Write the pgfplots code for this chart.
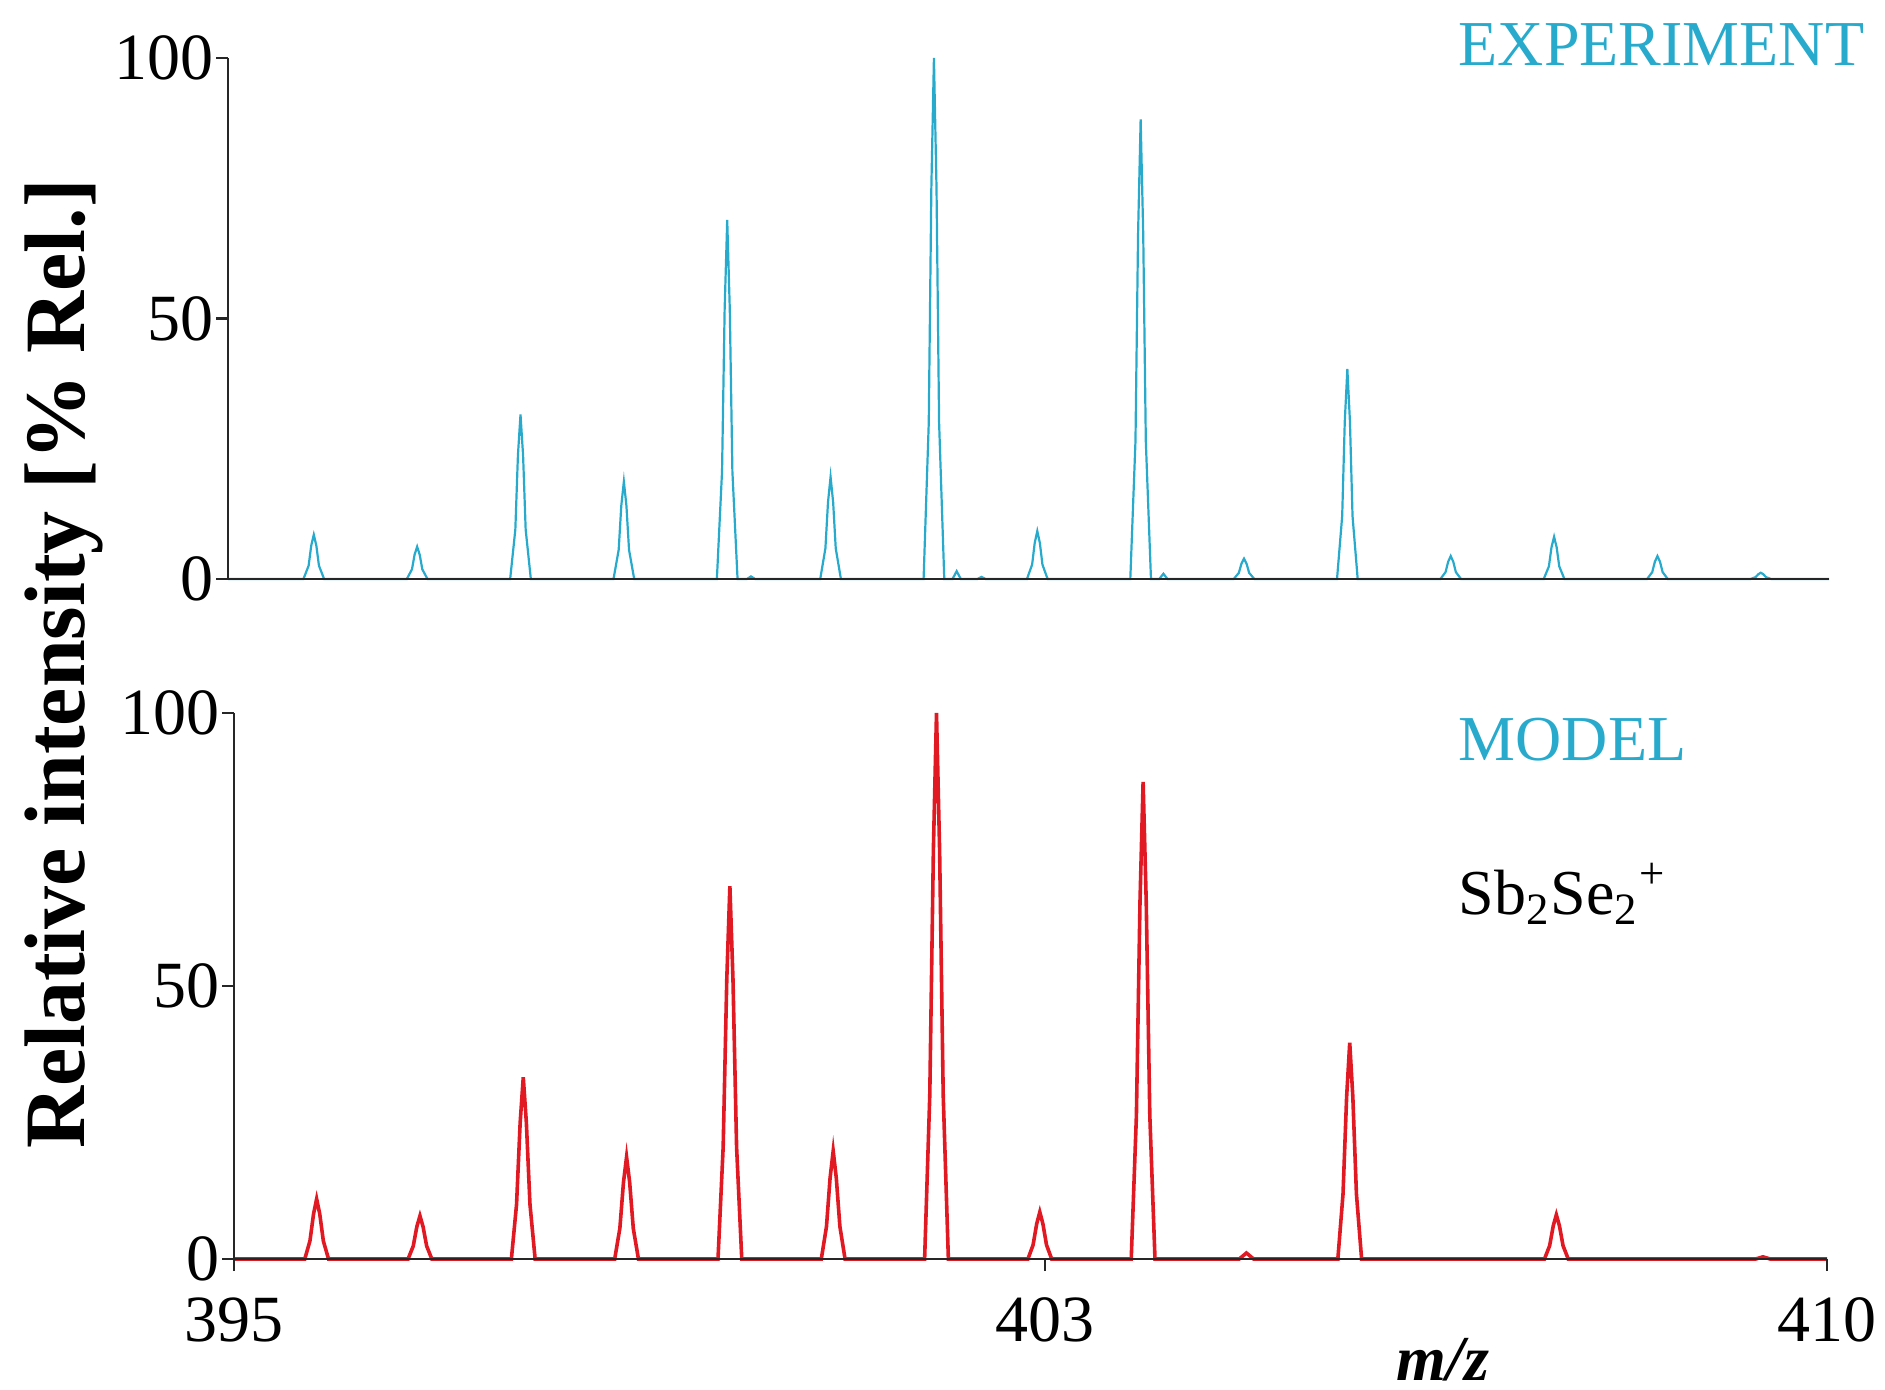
\documentclass[border=0pt]{standalone}
\usepackage{fontspec}
\setmainfont{Liberation Serif}
\usepackage{pgfplots}
\pgfplotsset{compat=1.18}

\definecolor{expcyan}{RGB}{40,170,205}
\definecolor{modred}{RGB}{225,25,35}

\pgfplotsset{
  specax/.style={
    scale only axis,
    axis lines*=left,
    axis line style={black!85, line width=0.6pt, -},
    tick style={black!85, line width=0.6pt},
    tick align=outside,
    major tick length=3pt,
    ymin=0, ymax=100,
    ytick={0,50,100}, yticklabels={0,50,100},
    ticklabel style={font=\fontsize{16.5}{18}\selectfont, inner sep=1pt},
    yticklabel style={xshift=0.5pt},
    clip=false,
    axis on top,
  }
}

\begin{document}
\begin{tikzpicture}
\useasboundingbox (0,0) rectangle (471.25pt,-347.5pt);

% experiment
\begin{axis}[specax,
  at={(57pt,-144.75pt)}, anchor=south west,
  width=400.25pt, height=130.25pt,
  xmin=395.17, xmax=410.66,
  xtick=\empty,
]
\addplot[expcyan, line width=0.55pt] coordinates {
  (395.17,0)
  (395.90,0) (395.95,2.55) (395.975,6.38) (396,8.5) (396.025,6.38) (396.05,2.55) (396.10,0)
  (396.90,0) (396.95,1.86) (396.975,4.65) (397,6.2) (397.025,4.65) (397.05,1.86) (397.10,0)
  (397.90,0) (397.95,9.48) (397.975,23.7) (398,31.6) (398.025,23.7) (398.05,9.48) (398.10,0)
  (398.90,0) (398.95,5.61) (398.975,14.03) (399,18.7) (399.025,14.03) (399.05,5.61) (399.10,0)
  (399.90,0) (399.95,20.67) (399.975,51.68) (400,68.9) (400.025,51.68) (400.05,20.67) (400.10,0)
  (400.19,0) (400.23,0.5) (400.27,0)
  (400.90,0) (400.95,5.88) (400.975,14.7) (401,19.6) (401.025,14.7) (401.05,5.88) (401.10,0)
  (401.90,0) (401.95,30) (401.975,75) (402,100) (402.025,75) (402.05,30) (402.10,0)
  (402.18,0) (402.22,1.5) (402.26,0)
  (402.42,0) (402.46,0.4) (402.50,0)
  (402.90,0) (402.95,2.76) (402.975,6.9) (403,9.2) (403.025,6.9) (403.05,2.76) (403.10,0)
  (403.90,0) (403.95,26.46) (403.975,66.15) (404,88.2) (404.025,66.15) (404.05,26.46) (404.10,0)
  (404.18,0) (404.22,1.0) (404.26,0)
  (404.90,0) (404.95,1.17) (404.975,2.93) (405,3.9) (405.025,2.93) (405.05,1.17) (405.10,0)
  (405.90,0) (405.95,12.09) (405.975,30.23) (406,40.3) (406.025,30.23) (406.05,12.09) (406.10,0)
  (406.90,0) (406.95,1.32) (406.975,3.3) (407,4.4) (407.025,3.3) (407.05,1.32) (407.10,0)
  (407.90,0) (407.95,2.43) (407.975,6.08) (408,8.1) (408.025,6.08) (408.05,2.43) (408.10,0)
  (408.90,0) (408.95,1.32) (408.975,3.3) (409,4.4) (409.025,3.3) (409.05,1.32) (409.10,0)
  (409.90,0) (409.95,0.36) (409.975,0.9) (410,1.2) (410.025,0.9) (410.05,0.36) (410.10,0)
  (410.66,0)
};
\end{axis}

% model
\begin{axis}[specax,
  at={(58.5pt,-314.75pt)}, anchor=south west,
  width=398.25pt, height=136.5pt,
  xmin=395.2, xmax=410.62,
  xtick={395.2,403.05,410.62}, xticklabels={395,403,410},
  xticklabel style={yshift=-5.5pt},
]
\addplot[modred, line width=0.9pt] coordinates {
  (395.2,0)
  (395.885,0) (395.935,3.3) (395.97,8.25) (396,11.0) (396.03,8.25) (396.065,3.3) (396.115,0)
  (396.885,0) (396.935,2.37) (396.97,5.93) (397,7.9) (397.03,5.93) (397.065,2.37) (397.115,0)
  (397.885,0) (397.935,9.99) (397.97,24.98) (398,33.3) (398.03,24.98) (398.065,9.99) (398.115,0)
  (398.885,0) (398.935,5.61) (398.97,14.03) (399,18.7) (399.03,14.03) (399.065,5.61) (399.115,0)
  (399.885,0) (399.935,20.49) (399.97,51.23) (400,68.3) (400.03,51.23) (400.065,20.49) (400.115,0)
  (400.885,0) (400.935,5.94) (400.97,14.85) (401,19.8) (401.03,14.85) (401.065,5.94) (401.115,0)
  (401.885,0) (401.935,30) (401.97,75) (402,100) (402.03,75) (402.065,30) (402.115,0)
  (402.885,0) (402.935,2.58) (402.97,6.45) (403,8.6) (403.03,6.45) (403.065,2.58) (403.115,0)
  (403.885,0) (403.935,26.22) (403.97,65.55) (404,87.4) (404.03,65.55) (404.065,26.22) (404.115,0)
  (404.93,0) (405,1.1) (405.07,0)
  (405.885,0) (405.935,11.88) (405.97,29.7) (406,39.6) (406.03,29.7) (406.065,11.88) (406.115,0)
  (407.885,0) (407.935,2.43) (407.97,6.08) (408,8.1) (408.03,6.08) (408.065,2.43) (408.115,0)
  (409.93,0) (410,0.4) (410.07,0)
  (410.62,0)
};
\end{axis}

% labels
\node[anchor=base west, text=expcyan, font=\fontsize{16}{18}\selectfont, inner sep=0pt]
  at (364.5pt,-16.5pt) {EXPERIMENT};
\node[anchor=base west, text=expcyan, font=\fontsize{16}{18}\selectfont, inner sep=0pt]
  at (364.5pt,-190pt) {MODEL};
\node[anchor=base west, font=\fontsize{16}{18}\selectfont, inner sep=0pt]
  at (364.5pt,-228.5pt) {Sb\textsubscript{2}Se\textsubscript{2}\textsuperscript{+}};
\node[anchor=base, font=\fontsize{16}{18}\selectfont\bfseries\itshape, inner sep=0pt]
  at (360.75pt,-345pt) {m/z};
\node[anchor=base, rotate=90, font=\fontsize{21.5}{24}\selectfont\bfseries, inner sep=0pt]
  at (21pt,-166pt) {Relative intensity [\% Rel.]};
\end{tikzpicture}
\end{document}
